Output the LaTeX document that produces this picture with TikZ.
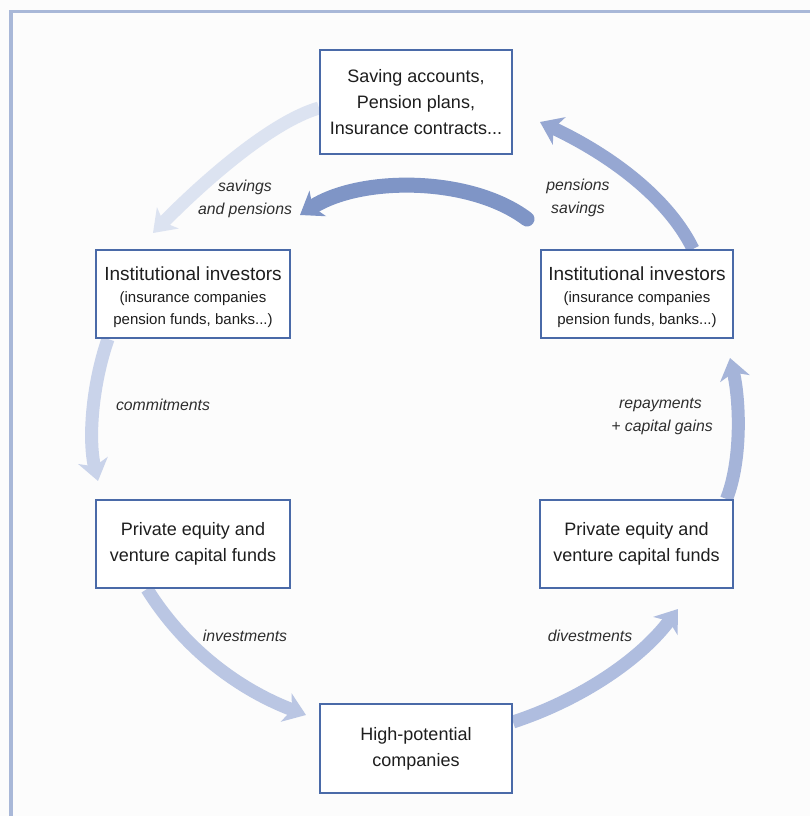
\documentclass[tikz,border=0pt]{standalone}
\usepackage{fontspec}
\setmainfont{Liberation Sans}
\usetikzlibrary{arrows.meta,backgrounds}
\definecolor{framec}{HTML}{A9B8D8}
\definecolor{boxc}{HTML}{4A6AA8}
\definecolor{textc}{HTML}{1E1E1E}
\definecolor{labc}{HTML}{2E2E2E}
\definecolor{aSav}{HTML}{DCE3F1}
\definecolor{aDark}{HTML}{7F95C6}
\definecolor{aPen}{HTML}{96A7D2}
\definecolor{aCom}{HTML}{C9D3EA}
\definecolor{aInv}{HTML}{BAC6E3}
\definecolor{aDiv}{HTML}{AFBDDF}
\definecolor{aRep}{HTML}{A5B4D9}
\tikzset{
  box/.style={draw=boxc, line width=2pt, fill=white, inner sep=0pt, text=textc,
    align=center, font=\fontsize{18}{26}\selectfont},
  instbox/.style={box, font=\fontsize{15}{22}\selectfont},
  lbl/.style={inner sep=0pt, text=labc, align=center,
    font=\itshape\fontsize{15.8}{23}\selectfont},
  flow/.style={line width=13pt, -{Stealth[length=21pt,width=30pt,inset=6pt]}},
}
\begin{document}
\begin{tikzpicture}[x=1pt,y=-1pt]
\useasboundingbox (0,0) rectangle (810,816);
% boxes
\node[box, minimum width=192pt, minimum height=104pt] (top) at (416,102)
  {Saving accounts,\\Pension plans,\\Insurance contracts...};
\node[instbox, minimum width=194pt, minimum height=88pt] (linst) at (193,294)
  {{\fontsize{19}{22}\selectfont\rule{0pt}{20pt}Institutional investors}\\
   (insurance companies\\pension funds, banks...)};
\node[instbox, minimum width=192pt, minimum height=88pt] (rinst) at (637,294)
  {{\fontsize{19}{22}\selectfont\rule{0pt}{20pt}Institutional investors}\\
   (insurance companies\\pension funds, banks...)};
\node[box, minimum width=194pt, minimum height=88pt] (lpe) at (193,544)
  {Private equity and\\venture capital funds};
\node[box, minimum width=193pt, minimum height=88pt] (rpe) at (636.5,544)
  {Private equity and\\venture capital funds};
\node[box, minimum width=192pt, minimum height=89pt] (bot) at (416,748.5)
  {High-potential\\companies};
% labels
\node[lbl] (l1) at (245,199) {savings\\and pensions};
\node[lbl] (l2) at (578,198) {pensions\\savings};
\node[lbl] (l3) at (163,405) {commitments};
\node[lbl] (l4) at (662,417) {\hspace*{-3pt}repayments\\+ capital gains};
\node[lbl] (l5) at (245,636) {investments};
\node[lbl] (l6) at (590,636) {divestments};
% free arrow ends
\coordinate (t1) at ([xshift=-40pt,yshift=16pt]linst.north);
\coordinate (s2) at ([xshift=-110pt,yshift=30pt]rinst.north);
\coordinate (t2) at ([xshift=107pt,yshift=34pt]linst.north);
\coordinate (t3) at ([xshift=27pt,yshift=-20pt]top.east);
\coordinate (t4) at ([xshift=-95pt,yshift=18pt]lpe.north);
\coordinate (t5) at ([xshift=-13pt,yshift=33.5pt]bot.west);
\coordinate (t6) at ([xshift=41.5pt,yshift=-20pt]rpe.south);
\coordinate (t7) at ([xshift=93pt,yshift=-19pt]rinst.south);
\begin{scope}[on background layer]
\fill[white!98!gray] (0,0) rectangle (810,816);
\draw[framec, line width=3.7pt] (10.8,816) -- (10.8,11.5) -- (810,11.5);
\draw[flow, aSav] ([yshift=-6pt]top.west) .. controls (270,122) and (200,185) .. (t1);
\draw[flow, aDark, line width=15pt, line cap=round] (s2) .. controls (470,176) and (360,176) .. (t2);
\draw[flow, aPen] ([xshift=56pt]rinst.north) .. controls (665,192) and (600,150) .. (t3);
\draw[flow, aCom] ([xshift=-85pt]linst.south) .. controls (92,385) and (88,440) .. (t4);
\draw[flow, aInv] ([xshift=-46pt]lpe.south) .. controls (185,650) and (240,690) .. (t5);
\draw[flow, aDiv] ([yshift=26.5pt]bot.east) .. controls (580,700) and (640,660) .. (t6);
\draw[flow, aRep] ([xshift=90pt]rpe.north) .. controls (742,460) and (740,400) .. (t7);
\end{scope}
\end{tikzpicture}
\end{document}
